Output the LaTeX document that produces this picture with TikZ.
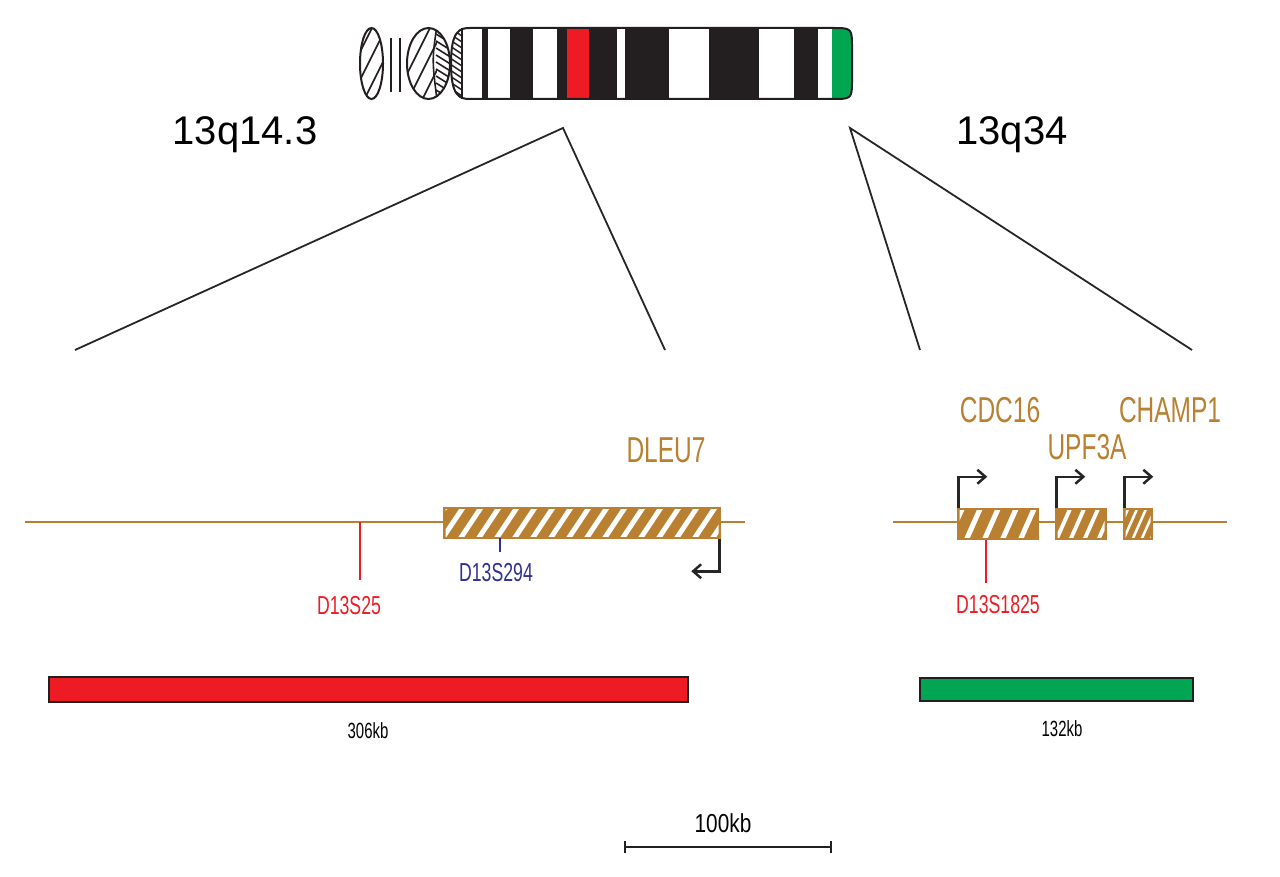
\documentclass[tikz,border=0pt]{standalone}
\usepackage{fontspec}
\setmainfont{Liberation Sans}
\usetikzlibrary{arrows.meta}
\begin{document}
\begin{tikzpicture}[x=1pt,y=-1pt,
  lbl/.style={inner sep=0pt,font=\fontsize{36}{36}\selectfont,xscale=0.68},
  small/.style={inner sep=0pt,font=\fontsize{26}{26}\selectfont,xscale=0.68},
  tiny/.style={inner sep=0pt,font=\fontsize{22}{22}\selectfont,xscale=0.68},
  big/.style={inner sep=0pt,font=\fontsize{40}{40}\selectfont},
  zoomline/.style={line width=1.8pt,black!85},
  tss/.style={line width=2.5pt,black!85,-{Straight Barb[length=8pt,width=14pt]}},
]
\useasboundingbox (0,0) rectangle (1280,877);
\definecolor{genebrown}{RGB}{184,128,48}
\definecolor{chrred}{RGB}{237,28,36}
\definecolor{chrgreen}{RGB}{0,166,81}
\definecolor{markblue}{RGB}{46,49,146}
\definecolor{band}{RGB}{35,31,32}
% --- chromosome ---
\begin{scope}
 \clip (371.5,63.5) ellipse [x radius=11.5, y radius=35.5];
 \foreach \i in {-80,-66,...,80} \draw[line width=1.6pt,band] (360+\i,100)--(400+\i,20);
\end{scope}
\draw[line width=2pt,band] (371.5,63.5) ellipse [x radius=11.5, y radius=35.5];
\draw[line width=2pt,band] (391,38)--(391,92) (400,38)--(400,92);
\begin{scope}
 \clip (428.5,63.5) ellipse [x radius=21.5, y radius=35.5];
 \foreach \i in {-90,-76,...,60} \draw[line width=1.6pt,band] (400+\i,100)--(440+\i,20);
 \fill[white] (437,20) rectangle (452,105);
 \foreach \i in {0,7,...,84} \draw[line width=1.6pt,band] (436,20+\i)--(452,30+\i);
 \draw[line width=1.6pt,band] (437,25) .. controls (432,60) .. (437,100);
\end{scope}
\draw[line width=2pt,band] (428.5,63.5) ellipse [x radius=21.5, y radius=35.5];
\begin{scope}
 \clip (451,63.5) .. controls (451,30) and (460,28) .. (470,28) -- (832,28)
   .. controls (852,28) and (852,28) .. (852,48) -- (852,79) .. controls (852,99) and (852,99) .. (832,99)
   -- (470,99) .. controls (460,99) and (451,97) .. (451,63.5) -- cycle;
 \fill[white] (440,20) rectangle (860,105);
 \foreach \i in {0,6,...,84} \draw[line width=1.4pt,band] (450,22+\i)--(462,30+\i);
 \fill[white] (462,20) rectangle (482,105);
 \fill[band] (482,20) rectangle (488,105);
 \fill[band] (510,20) rectangle (533,105);
 \fill[band] (557,20) rectangle (567,105);
 \fill[chrred] (567,20) rectangle (589,105);
 \fill[band] (589,20) rectangle (617,105);
 \fill[band] (625,20) rectangle (669,105);
 \fill[band] (709,20) rectangle (759,105);
 \fill[band] (794,20) rectangle (818,105);
 \fill[chrgreen] (832,20) rectangle (860,105);
\end{scope}
\draw[line width=2pt,band] (451,63.5) .. controls (451,30) and (460,28) .. (470,28) -- (832,28)
   .. controls (852,28) and (852,28) .. (852,48) -- (852,79) .. controls (852,99) and (852,99) .. (832,99)
   -- (470,99) .. controls (460,99) and (451,97) .. (451,63.5) -- cycle;
\draw[line width=1.4pt,band] (462,28)--(462,99);
% --- labels and zoom lines ---
\node[big] (l1) at (245,135) {13q14.3};
\node[big] (l2) at (1012,135) {13q34};
\coordinate (a) at (563,128); \coordinate (a1) at (75,350); \coordinate (a2) at (665,350);
\coordinate (b) at (850,128); \coordinate (b1) at (920,350); \coordinate (b2) at (1192,350);
\draw[zoomline] (a1)--(a)--(a2);
\draw[zoomline] (b1)--(b)--(b2);
% --- left track ---
\coordinate (L0) at (25,522); \coordinate (L1) at (745,522);
\draw[genebrown,line width=2.5pt] (L0)--(L1);
\draw[chrred,line width=1.5pt] (360,522)--(360,580);
\node[small,text=chrred] (m1) at (349,606) {D13S25};
\node[draw=genebrown,line width=2.5pt,fill=genebrown,minimum width=276pt,minimum height=30pt,inner sep=0pt] (dleu) at (582,523) {};
\begin{scope}
 \clip (445.5,509.5) rectangle (718.5,536.5);
 \foreach \i in {0,18,...,310} \draw[white,line width=5pt] (420+\i,545)--(450+\i,500);
\end{scope}
\draw[markblue,line width=1.5pt] (500,538)--(500,552);
\node[small,text=markblue] (m2) at (496,573) {D13S294};
\node[lbl,text=genebrown] (g1) at (666,450) {DLEU7};
\draw[tss] (dleu.south east) ++(-2,0) |- ++(-28,32);
% --- right track ---
\draw[genebrown,line width=2.5pt] (893,522)--(1227,522);
\foreach \n/\xa/\xb/\st in {c1/958/1038/18,c2/1056/1106/14,c3/1124/1152/9}{
  \node[draw=genebrown,line width=2.5pt,fill=genebrown,minimum width=\xb-\xa,minimum height=30pt,inner sep=0pt] (\n) at ({(\xa+\xb)/2},524) {};
  \begin{scope}
   \clip (\xa+1.5,510.5) rectangle (\xb-1.5,537.5);
   \foreach \i in {0,\st,...,120} \draw[white,line width={\st*0.28}] (\xa-30+\i,545)--(\xa-10+\i,500);
  \end{scope}
  \draw[tss] (\n.north west) ++(1.5,0) |- ++(29,-31);
}
\draw[chrred,line width=1.5pt] (986,540)--(986,583);
\node[small,text=chrred] (m3) at (998,605) {D13S1825};
\node[lbl,text=genebrown] (g2) at (1000,410) {CDC16};
\node[lbl,text=genebrown] (g3) at (1087,447) {UPF3A};
\node[lbl,text=genebrown] (g4) at (1170,410) {CHAMP1};
% --- bars ---
\node[draw=band,line width=2pt,fill=chrred,minimum width=639pt,minimum height=25pt,inner sep=0pt] (r) at (368.5,689.5) {};
\node[draw=band,line width=1.5pt,fill=chrgreen,minimum width=273pt,minimum height=23pt,inner sep=0pt] (g) at (1056.5,689.5) {};
\node[tiny] (t1) at (368,731) {306kb};
\node[tiny] (t2) at (1062,729) {132kb};
% --- scale ---
\coordinate (s0) at (624,847); \coordinate (s1) at (832,847);
\draw[band,line width=2.5pt] (s0)--(s1);
\draw[band,line width=2pt] (625,841)--(625,853) (831,841)--(831,853);
\node[inner sep=0pt,font=\fontsize{26}{26}\selectfont,xscale=0.8] (sl) at (723,823) {100kb};
\end{tikzpicture}
\end{document}
